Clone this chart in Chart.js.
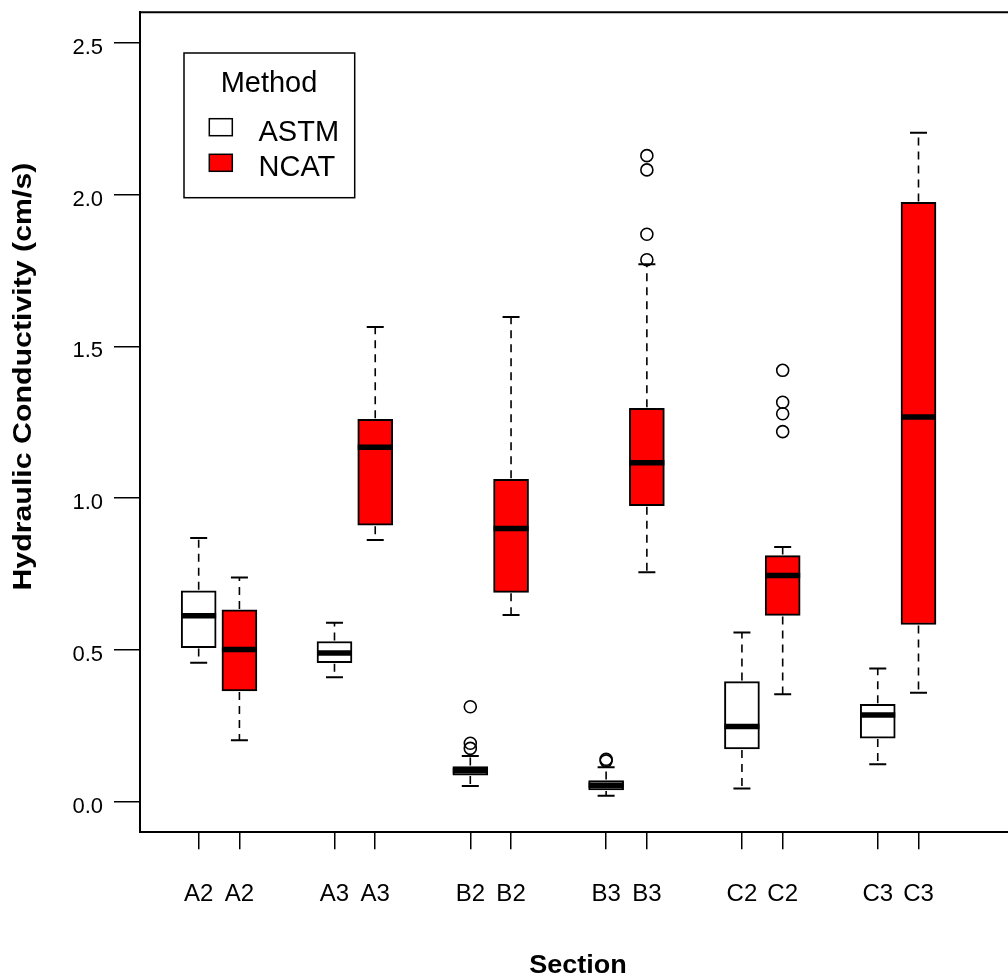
<!DOCTYPE html>
<html>
<head>
<meta charset="utf-8">
<script src="https://cdn.jsdelivr.net/npm/chart.js@4.4.0/dist/chart.umd.min.js"></script>
<style>
  html, body { margin: 0; padding: 0; background: #fff; }
  #wrap { width: 1008px; height: 977px; }
</style>
</head>
<body>
<div id="wrap"><canvas id="boxChart" width="1008" height="977"></canvas></div>
<script>
// ----------------------------------------------------------------
// Data
// ----------------------------------------------------------------
const sections = ['A2', 'A3', 'B2', 'B3', 'C2', 'C3'];
const methods = ['ASTM', 'NCAT'];
const methodOffsets = [0, 0.3];          // position of each method inside a section
const methodColors = ['#ffffff', '#ff0000'];

const astmLow    = [0.458, 0.410, 0.052, 0.020, 0.044, 0.124];
const astmQ1     = [0.508, 0.458, 0.088, 0.039, 0.174, 0.210];
const astmMedian = [0.613, 0.490, 0.102, 0.055, 0.248, 0.286];
const astmQ3     = [0.695, 0.528, 0.116, 0.070, 0.396, 0.321];
const astmHigh   = [0.869, 0.590, 0.151, 0.114, 0.558, 0.439];
const astmOutliers = [[], [], [0.313, 0.193, 0.176], [0.140, 0.135], [], []];

const ncatLow    = [0.203, 0.862, 0.615, 0.756, 0.354, 0.359];
const ncatQ1     = [0.365, 0.911, 0.690, 0.975, 0.614, 0.584];
const ncatMedian = [0.502, 1.168, 0.900, 1.117, 0.745, 1.267];
const ncatQ3     = [0.632, 1.260, 1.062, 1.296, 0.811, 1.974];
const ncatHigh   = [0.739, 1.564, 1.597, 1.770, 0.839, 2.203];
const ncatOutliers = [[], [], [], [2.128, 2.081, 1.869, 1.785], [1.421, 1.316, 1.278, 1.219], []];

const yTicks = [0, 0.5, 1.0, 1.5, 2.0, 2.5];

const stats = [
    { low: astmLow, q1: astmQ1, med: astmMedian, q3: astmQ3, high: astmHigh, out: astmOutliers },
    { low: ncatLow, q1: ncatQ1, med: ncatMedian, q3: ncatQ3, high: ncatHigh, out: ncatOutliers }
];

// tick positions / labels on the x axis: one per box
const tickPositions = [];
const tickLabels = [];
sections.forEach((s, i) => {
    methodOffsets.forEach(off => {
        tickPositions.push(i + off);
        tickLabels.push(s);
    });
});

const FONT = '"Liberation Sans", Arial, Helvetica, sans-serif';
const BOX_W = 35;      // px
const STAPLE_W = 17;   // px

// ----------------------------------------------------------------
// Datasets: boxes as floating bars, outliers as scatter points
// ----------------------------------------------------------------
const boxDatasets = methods.map((m, k) => ({
    type: 'bar',
    label: m,
    data: sections.map((s, i) => ({ x: i + methodOffsets[k], y: [stats[k].q1[i], stats[k].q3[i]] })),
    backgroundColor: methodColors[k],
    borderColor: '#000',
    borderWidth: 2,
    borderSkipped: false,
    barThickness: BOX_W,
    grouped: false
}));

const outlierPoints = [];
methods.forEach((m, k) => {
    sections.forEach((s, i) => {
        stats[k].out[i].forEach(v => outlierPoints.push({ x: i + methodOffsets[k], y: v }));
    });
});

// whiskers, staples and medians drawn through the chart scales
const boxExtras = {
    id: 'boxExtras',
    afterDatasetsDraw(chart) {
        const ctx = chart.ctx;
        const xs = chart.scales.x, ys = chart.scales.y;
        ctx.save();
        ctx.strokeStyle = '#000';
        methods.forEach((m, k) => {
            const st = stats[k];
            sections.forEach((s, i) => {
                const px = xs.getPixelForValue(i + methodOffsets[k]);
                const yLow = ys.getPixelForValue(st.low[i]);
                const yQ1 = ys.getPixelForValue(st.q1[i]);
                const yQ3 = ys.getPixelForValue(st.q3[i]);
                const yHigh = ys.getPixelForValue(st.high[i]);
                const yMed = ys.getPixelForValue(st.med[i]);

                // dashed whiskers
                ctx.lineWidth = 1.6;
                ctx.setLineDash([8, 6]);
                ctx.beginPath();
                ctx.moveTo(px, yQ3 - 1); ctx.lineTo(px, yHigh);
                ctx.moveTo(px, yQ1 + 1); ctx.lineTo(px, yLow);
                ctx.stroke();

                // staples
                ctx.setLineDash([]);
                ctx.lineWidth = 2;
                ctx.beginPath();
                ctx.moveTo(px - STAPLE_W / 2, yHigh); ctx.lineTo(px + STAPLE_W / 2, yHigh);
                ctx.moveTo(px - STAPLE_W / 2, yLow); ctx.lineTo(px + STAPLE_W / 2, yLow);
                ctx.stroke();

                // median
                ctx.lineWidth = 5.5;
                ctx.beginPath();
                ctx.moveTo(px - BOX_W / 2, yMed); ctx.lineTo(px + BOX_W / 2, yMed);
                ctx.stroke();
            });
        });
        ctx.restore();
    },
    afterDraw(chart) {
        const ctx = chart.ctx;
        const area = chart.chartArea;
        ctx.save();

        // top frame line
        ctx.strokeStyle = '#000';
        ctx.lineWidth = 2;
        ctx.beginPath();
        ctx.moveTo(area.left, area.top); ctx.lineTo(area.right, area.top);
        ctx.stroke();

        ctx.fillStyle = '#000';

        // y axis title (stretched to match the reference length)
        ctx.save();
        ctx.font = 'bold 26px ' + FONT;
        ctx.translate(23.5, 376.6);
        ctx.rotate(-Math.PI / 2);
        const yTitle = 'Hydraulic Conductivity (cm/s)';
        const wY = ctx.measureText(yTitle).width;
        ctx.scale(428 / wY, 1);
        ctx.textAlign = 'center';
        ctx.textBaseline = 'middle';
        ctx.fillText(yTitle, 0, 0);
        ctx.restore();

        // x axis title
        ctx.save();
        ctx.font = 'bold 26px ' + FONT;
        const xTitle = 'Section';
        const wX = ctx.measureText(xTitle).width;
        ctx.translate(578, 973);
        ctx.scale(97.6 / wX, 1);
        ctx.textAlign = 'center';
        ctx.textBaseline = 'alphabetic';
        ctx.fillText(xTitle, 0, 0);
        ctx.restore();

        // legend
        ctx.lineWidth = 1.5;
        ctx.strokeStyle = '#000';
        ctx.strokeRect(184, 53, 170.7, 144.7);
        ctx.font = '29px ' + FONT;
        ctx.textAlign = 'center';
        ctx.textBaseline = 'alphabetic';
        ctx.fillText('Method', 269, 91.7);
        ctx.textAlign = 'left';
        methods.forEach((m, k) => {
            const top = 118.7 + k * 35.6;
            ctx.fillStyle = methodColors[k];
            ctx.fillRect(209.3, top, 23, 17);
            ctx.strokeRect(209.3, top, 23, 17);
            ctx.fillStyle = '#000';
            ctx.fillText(m, 258.5, 140.7 + k * 35);
        });
        ctx.restore();
    }
};

new Chart(document.getElementById('boxChart').getContext('2d'), {
    type: 'bar',
    data: {
        datasets: [
            ...boxDatasets,
            {
                type: 'scatter',
                label: 'outliers',
                data: outlierPoints,
                pointStyle: 'circle',
                pointRadius: 6,
                pointBorderWidth: 1.6,
                pointBorderColor: '#000',
                pointBackgroundColor: 'rgba(0,0,0,0)'
            }
        ]
    },
    options: {
        responsive: false,
        animation: false,
        layout: { autoPadding: false, padding: { top: 12.3, left: 0, right: 0, bottom: 0 } },
        plugins: {
            legend: { display: false },
            tooltip: { enabled: false }
        },
        scales: {
            x: {
                type: 'linear',
                min: -0.432,
                max: 5.959,
                offset: false,
                afterBuildTicks: s => { s.ticks = tickPositions.map(v => ({ value: v })); },
                afterFit: s => {
                    s.height = 144.8;
                    s.paddingLeft = 0;
                    s.paddingRight = 0;
                },
                grid: { offset: false, drawOnChartArea: false, drawTicks: true, tickLength: 17, color: '#000', lineWidth: 1.5 },
                border: { display: true, color: '#000', width: 2 },
                ticks: {
                    autoSkip: false,
                    maxRotation: 0,
                    minRotation: 0,
                    padding: 31,
                    color: '#000',
                    font: { family: FONT, size: 24 },
                    callback: (v, i) => tickLabels[i]
                }
            },
            y: {
                min: -0.1,
                max: 2.6,
                afterBuildTicks: s => { s.ticks = yTicks.map(v => ({ value: v })); },
                afterFit: s => {
                    s.width = 140;
                    s.paddingTop = 0;
                    s.paddingBottom = 0;
                },
                grid: { drawOnChartArea: false, drawTicks: true, tickLength: 26, color: '#000', lineWidth: 1.5 },
                border: { display: true, color: '#000', width: 2 },
                ticks: {
                    padding: 11,
                    labelOffset: 5,
                    color: '#000',
                    font: { family: FONT, size: 22 },
                    callback: v => v.toFixed(1)
                }
            }
        }
    },
    plugins: [boxExtras]
});
</script>
</body>
</html>
